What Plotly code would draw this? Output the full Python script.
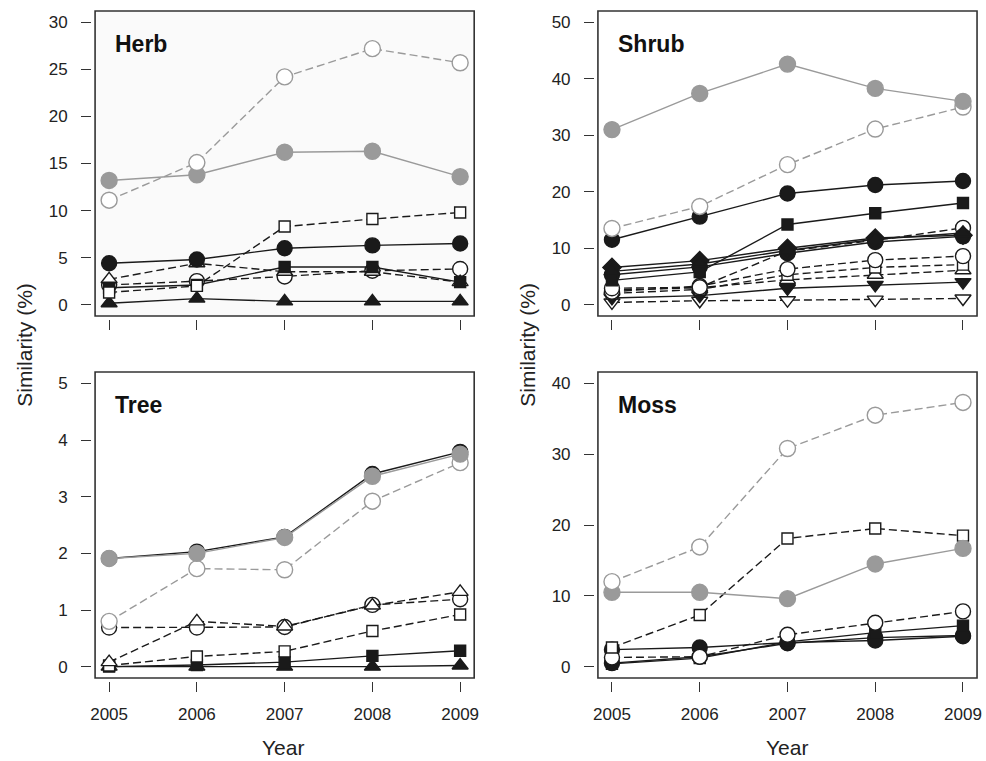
import plotly.graph_objects as go

years = [2005, 2006, 2007, 2008, 2009]

# ---- Herb ----
herb_gray_fill = [13.2, 13.8, 16.2, 16.3, 13.6]
herb_gray_open = [11.1, 15.1, 24.2, 27.2, 25.7]
herb_open_square = [1.3, 2.0, 8.3, 9.1, 9.8]
herb_fill_circle = [4.4, 4.8, 6.0, 6.3, 6.5]
herb_fill_square = [1.8, 2.1, 4.0, 4.0, 2.4]
herb_open_triangle = [2.7, 4.4, 3.5, 3.5, 2.4]
herb_open_circle = [2.1, 2.5, 3.0, 3.6, 3.8]
herb_fill_triangle = [0.15, 0.65, 0.35, 0.35, 0.35]

# ---- Shrub ----
shrub_gray_fill = [31.0, 37.4, 42.6, 38.3, 36.0]
shrub_gray_open = [13.5, 17.4, 24.8, 31.1, 35.0]
shrub_fill_circle = [11.5, 15.6, 19.7, 21.2, 21.9]
shrub_fill_square = [4.3, 5.8, 14.2, 16.2, 18.0]
shrub_fill_diamond = [6.6, 7.8, 10.0, 11.8, 12.3]
shrub_fill_circle2 = [5.3, 6.7, 9.1, 11.1, 12.1]
shrub_fill_triangle = [5.9, 7.2, 9.6, 11.6, 12.7]
shrub_open_circle2 = [2.9, 3.1, 9.5, 11.4, 13.6]
shrub_open_circle = [2.3, 3.3, 6.3, 7.9, 8.6]
shrub_open_square = [2.0, 2.7, 5.3, 6.6, 7.1]
shrub_open_triangle = [2.6, 3.0, 4.4, 5.3, 6.1]
shrub_fill_down = [1.2, 1.6, 2.9, 3.5, 4.0]
shrub_open_down = [0.4, 0.7, 0.8, 0.9, 1.1]

# ---- Tree ----
tree_fill_circle = [1.91, 2.03, 2.29, 3.40, 3.79]
tree_gray_fill = [1.91, 2.00, 2.28, 3.36, 3.75]
tree_gray_open = [0.80, 1.73, 1.71, 2.92, 3.60]
tree_open_circle = [0.69, 0.69, 0.70, 1.09, 1.19]
tree_open_triangle = [0.08, 0.80, 0.71, 1.08, 1.32]
tree_open_square = [0.02, 0.18, 0.27, 0.63, 0.92]
tree_fill_square = [0.0, 0.03, 0.08, 0.19, 0.28]
tree_fill_triangle = [0.0, 0.0, 0.0, 0.0, 0.02]

# ---- Moss ----
moss_gray_open = [12.0, 16.9, 30.8, 35.5, 37.3]
moss_gray_fill = [10.5, 10.5, 9.6, 14.5, 16.7]
moss_open_square = [2.7, 7.3, 18.1, 19.5, 18.5]
moss_open_circle = [1.3, 1.4, 4.5, 6.2, 7.8]
moss_fill_square = [0.4, 1.2, 3.5, 4.8, 5.8]
moss_fill_circle = [2.4, 2.7, 3.4, 3.7, 4.3]
moss_fill_circle2 = [0.5, 1.4, 3.3, 4.1, 4.4]

panel_names = ["Herb", "Shrub", "Tree", "Moss"]
y_ticks = [[0, 5, 10, 15, 20, 25, 30], [0, 10, 20, 30, 40, 50],
           [0, 1, 2, 3, 4, 5], [0, 10, 20, 30, 40]]
y_max = [30, 50, 5, 40]

panels = [
    [(herb_fill_triangle, "tf"), (herb_open_circle, "bo"), (herb_open_triangle, "to"),
     (herb_fill_square, "sf"), (herb_fill_circle, "bf"), (herb_open_square, "so"),
     (herb_gray_fill, "gf"), (herb_gray_open, "go")],
    [(shrub_open_down, "vo"), (shrub_fill_down, "vf"), (shrub_open_triangle, "to"),
     (shrub_open_square, "so"), (shrub_open_circle, "bo"), (shrub_open_circle2, "bo"),
     (shrub_fill_circle2, "bf"), (shrub_fill_diamond, "df"), (shrub_fill_triangle, "tf"),
     (shrub_fill_square, "sf"), (shrub_fill_circle, "bf"),
     (shrub_gray_open, "go"), (shrub_gray_fill, "gf")],
    [(tree_fill_triangle, "tf"), (tree_fill_square, "sf"), (tree_open_square, "so"),
     (tree_open_circle, "bo"), (tree_open_triangle, "to"), (tree_fill_circle, "bf"),
     (tree_gray_open, "go"), (tree_gray_fill, "gf")],
    [(moss_fill_circle2, "bf"), (moss_fill_circle, "bf"), (moss_fill_square, "sf"),
     (moss_open_circle, "bo"), (moss_open_square, "so"),
     (moss_gray_fill, "gf"), (moss_gray_open, "go")],
]

GRAY = "#9a9a9a"
BLACK = "#1a1a1a"
DASH = "8px,4px"
styles = {
    "gf": dict(symbol="circle", size=16, fill=GRAY, edge=GRAY, line=GRAY, dash="solid"),
    "go": dict(symbol="circle", size=16, fill="white", edge=GRAY, line=GRAY, dash=DASH),
    "bf": dict(symbol="circle", size=15, fill=BLACK, edge=BLACK, line=BLACK, dash="solid"),
    "bo": dict(symbol="circle", size=15, fill="white", edge=BLACK, line=BLACK, dash=DASH),
    "sf": dict(symbol="square", size=11, fill=BLACK, edge=BLACK, line=BLACK, dash="solid"),
    "so": dict(symbol="square", size=11, fill="white", edge=BLACK, line=BLACK, dash=DASH),
    "tf": dict(symbol="triangle-up", size=14, fill=BLACK, edge=BLACK, line=BLACK, dash="solid"),
    "to": dict(symbol="triangle-up", size=14, fill="white", edge=BLACK, line=BLACK, dash=DASH),
    "df": dict(symbol="diamond", size=14, fill=BLACK, edge=BLACK, line=BLACK, dash="solid"),
    "vf": dict(symbol="triangle-down", size=14, fill=BLACK, edge=BLACK, line=BLACK, dash="solid"),
    "vo": dict(symbol="triangle-down", size=14, fill="white", edge=BLACK, line=BLACK, dash=DASH),
}

W, H = 986, 761
# panel boxes in screen pixels: (left, right, top, bottom)
boxes = [(91, 474, 11, 316), (599, 982, 11, 316), (91, 474, 372, 678), (599, 982, 372, 678)]


def px(x):
    return x / W


def py(y):
    return 1 - y / H


fig = go.Figure()
layout = dict(
    width=W, height=H, margin=dict(l=0, r=0, t=0, b=0),
    paper_bgcolor="white", plot_bgcolor="rgba(0,0,0,0)", showlegend=False,
    font=dict(family="Liberation Sans, Arial, sans-serif", color="#222"),
)
shapes = []
annotations = []

for i, (l, r, t, b) in enumerate(boxes):
    n = "" if i == 0 else str(i + 1)
    xa, ya = "x" + n, "y" + n
    for vals, key in panels[i]:
        s = styles[key]
        fig.add_trace(go.Scatter(
            x=years, y=vals, xaxis=xa, yaxis=ya, mode="lines+markers",
            line=dict(color=s["line"], width=1.4, dash=s["dash"]),
            marker=dict(symbol=s["symbol"], size=s["size"], color=s["fill"],
                        line=dict(color=s["edge"], width=1.4)),
            cliponaxis=False, hoverinfo="x+y",
        ))
    ymax = y_max[i]
    pad = ymax * 0.04
    layout["xaxis" + n] = dict(
        domain=[px(l), px(r)], anchor="free", position=py(b + 3),
        range=[2004.84, 2009.16], tickvals=years,
        showticklabels=(i >= 2), ticks="outside", ticklen=10, tickwidth=1.3,
        tickcolor="#333", showline=False, showgrid=False, zeroline=False,
        tickfont=dict(size=17, color="#222"), ticklabelstandoff=8,
    )
    layout["yaxis" + n] = dict(
        domain=[py(b), py(t)], anchor="free", position=px(l - 4),
        range=[-pad, ymax + pad], tickvals=y_ticks[i],
        ticks="outside", ticklen=10, tickwidth=1.3, tickcolor="#333",
        showline=False, showgrid=False, zeroline=False,
        tickfont=dict(size=17, color="#222"), ticklabelstandoff=10,
    )
    shapes.append(dict(
        type="rect", xref=xa + " domain", yref=ya + " domain", x0=0, x1=1, y0=0, y1=1,
        line=dict(color="#333", width=1.6),
        fillcolor="#fafafa" if i == 0 else "rgba(0,0,0,0)", layer="below",
    ))
    annotations.append(dict(
        text="<b>" + panel_names[i] + "</b>", xref="paper", yref="paper",
        x=px(l + 18), y=py(t + 33), xanchor="left", yanchor="middle",
        showarrow=False, font=dict(size=23, color="#111"),
    ))

for cx in (20, 528):
    annotations.append(dict(
        text="Similarity (%)", xref="paper", yref="paper", x=px(cx), y=py(345),
        xanchor="center", yanchor="middle", textangle=-90, showarrow=False,
        font=dict(size=21, color="#222"),
    ))
for cx in (281, 790):
    annotations.append(dict(
        text="Year", xref="paper", yref="paper", x=px(cx), y=py(747),
        xanchor="center", yanchor="middle", showarrow=False,
        font=dict(size=21, color="#222"),
    ))

layout["shapes"] = shapes
layout["annotations"] = annotations
fig.update_layout(**layout)
fig.write_html(
    "out.html",
    config={"displayModeBar": False},
    post_script="document.body.style.margin='0';document.body.style.overflow='hidden';",
)
